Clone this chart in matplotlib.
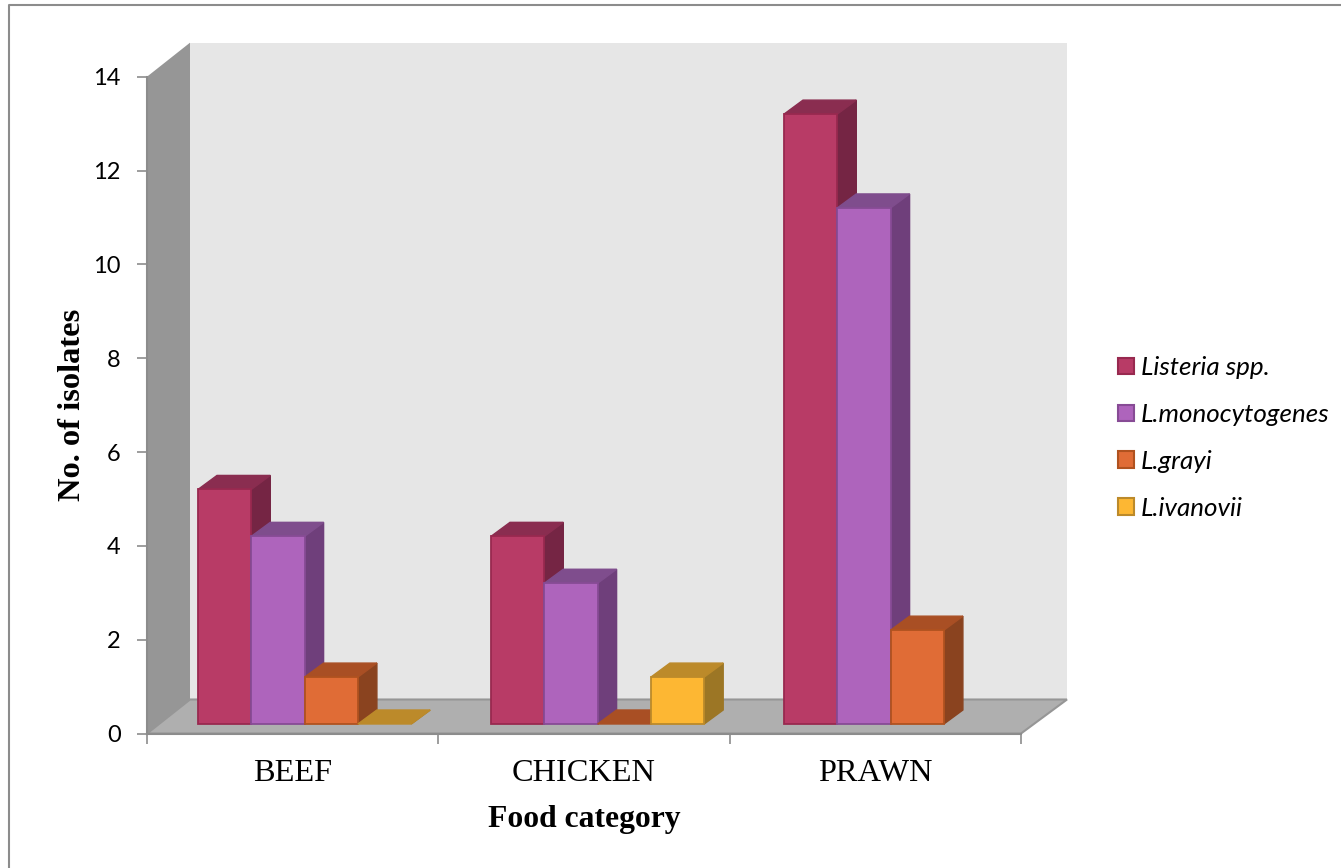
"""Listeria isolates per food category, drawn as a pseudo-3D clustered column chart."""

import numpy as np
import matplotlib
matplotlib.use("Agg")
import matplotlib.pyplot as plt
from matplotlib.lines import Line2D
from matplotlib.patches import Patch, Polygon

categories = ["BEEF", "CHICKEN", "PRAWN"]
series_names = ["Listeria spp.", "L.monocytogenes", "L.grayi", "L.ivanovii"]
listeria_spp = [5, 4, 13]
l_monocytogenes = [4, 3, 11]
l_grayi = [1, 0, 2]
l_ivanovii = [0, 1, np.nan]
y_ticks = [0, 2, 4, 6, 8, 10, 12, 14]

# front, edge, top, side
palette = [
    ("#B83B66", "#98294F", "#8A2D50", "#752544"),
    ("#AE64BC", "#874B95", "#7F4D8D", "#6F3F7B"),
    ("#E06C36", "#B0521F", "#A94F24", "#8A431F"),
    ("#FDB733", "#BC8A2A", "#BC8A2A", "#9C7625"),
]

W, H = 1341, 868
AX_L, AX_R, AX_B, AX_T = 147, 1021, 733.5, 76.7
PX_X = (AX_R - AX_L) / 3
PX_Y = (AX_B - AX_T) / 14

# depth of the box in data units
WALL_DX = 43 / PX_X
FLOOR_DX = 46 / PX_X
DEPTH_Y = 34 / PX_Y
BAR_W = 53.3 / PX_X
GROUP_STEP = 293 / PX_X
GROUP_START = (198 - AX_L) / PX_X
FRONT_Y = 9.5 / PX_Y
BAR_DX = 19 / PX_X
BAR_DY = 14 / PX_Y

plt.rcParams["font.family"] = ["Lato", "DejaVu Sans"]
fig = plt.figure(figsize=(W / 100, H / 100), dpi=100, facecolor="white")
ax = fig.add_axes([AX_L / W, 1 - AX_B / H, (AX_R - AX_L) / W, (AX_B - AX_T) / H])
ax.set_xlim(0, 3)
ax.set_ylim(0, 14)
ax.patch.set_visible(False)

# outer frame, only the top and left sides show
fig.add_artist(Line2D([9 / W, 9 / W, 1], [0, 1 - 5 / H, 1 - 5 / H], transform=fig.transFigure,
                      color="#8C8C8C", linewidth=1.5))

# back wall, side wall and floor
ax.add_patch(Polygon([(WALL_DX, DEPTH_Y), (3 + FLOOR_DX, DEPTH_Y), (3 + FLOOR_DX, 14 + DEPTH_Y), (WALL_DX, 14 + DEPTH_Y)],
                     facecolor="#E6E6E6", edgecolor="none", clip_on=False, zorder=1))
ax.add_patch(Polygon([(0, 0), (WALL_DX, DEPTH_Y), (WALL_DX, 14 + DEPTH_Y), (0, 14)],
                     facecolor="#969696", edgecolor="none", clip_on=False, zorder=1))
ax.add_patch(Polygon([(0, 0), (WALL_DX, DEPTH_Y), (3 + FLOOR_DX, DEPTH_Y), (3, 0)],
                     facecolor="#AFAFAF", edgecolor="#969696", linewidth=1.5, clip_on=False, zorder=1))

all_series = [listeria_spp, l_monocytogenes, l_grayi, l_ivanovii]
order = 3
for g in range(len(categories)):
    for s, values in enumerate(all_series):
        val = values[g]
        if np.isnan(val):
            continue
        front, edge, top, side = palette[s]
        x0 = GROUP_START + g * GROUP_STEP + s * BAR_W
        x1 = x0 + BAR_W
        y0 = FRONT_Y
        y1 = FRONT_Y + val
        ax.add_patch(Polygon([(x1, y0), (x1 + BAR_DX, y0 + BAR_DY), (x1 + BAR_DX, y1 + BAR_DY), (x1, y1)],
                             facecolor=side, edgecolor=side, linewidth=1, clip_on=False, zorder=order))
        ax.add_patch(Polygon([(x0, y1), (x0 + BAR_DX, y1 + BAR_DY), (x1 + BAR_DX, y1 + BAR_DY), (x1, y1)],
                             facecolor=top, edgecolor=top, linewidth=1, clip_on=False, zorder=order))
        if val > 0:
            ax.bar(x0, val, BAR_W, bottom=y0, align="edge", color=front, edgecolor=edge,
                   linewidth=1.3, clip_on=False, zorder=order)
        order += 1

for name in ["top", "right"]:
    ax.spines[name].set_visible(False)
for name in ["left", "bottom"]:
    ax.spines[name].set_color("#8C8C8C")
    ax.spines[name].set_linewidth(1.5)
    ax.spines[name].set_zorder(2)

ax.set_yticks(y_ticks)
ax.tick_params(axis="y", length=7, width=1.2, color="#8C8C8C", labelsize=17, pad=12, labelcolor="black")
ax.set_xticks([0, 1, 2, 3])
ax.set_xticklabels([])
ax.set_xticks([0.5, 1.5, 2.5], minor=True)
ax.set_xticklabels(categories, minor=True, family="Liberation Serif", fontsize=23.3)
ax.tick_params(axis="x", which="major", length=7, width=1.2, color="#8C8C8C")
ax.tick_params(axis="x", which="minor", length=0, pad=18.6)

ax.set_xlabel("Food category", family="Liberation Serif", fontweight="bold", fontsize=22.8)
ax.xaxis.set_label_coords(0.5, -0.1085)
ax.set_ylabel("No. of isolates", family="Liberation Serif", fontweight="bold", fontsize=23.4)
ax.yaxis.set_label_coords(-0.0685, 0.5)

handles = [Patch(facecolor=p[0], edgecolor=p[1], linewidth=1.5) for p in palette]
fig.legend(handles, series_names, loc="center left", bbox_to_anchor=(1118 / W, 1 - 438 / H), frameon=False,
           prop={"family": "Lato", "style": "italic", "size": 18.7}, handlelength=0.615, handleheight=0.615,
           handletextpad=0.27, labelspacing=0.92, borderpad=0, borderaxespad=0)

fig.savefig("out.png", dpi=100)
